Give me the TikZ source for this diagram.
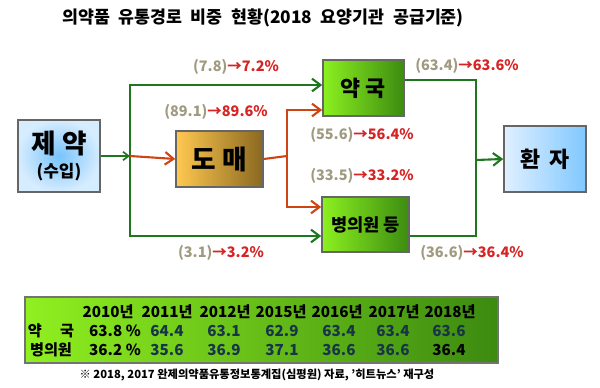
\documentclass[tikz,border=0pt]{standalone}
\usepackage{fontspec}
\setmainfont{Noto Sans CJK KR}
\usetikzlibrary{arrows.meta,positioning}
\definecolor{grnline}{RGB}{30,118,30}
\definecolor{redline}{RGB}{208,68,20}
\definecolor{oldval}{RGB}{160,154,128}
\definecolor{newval}{RGB}{214,36,36}
\definecolor{tabtxt}{RGB}{24,52,72}
\newcommand{\flowpct}[2]{\textcolor{oldval}{(#1)}\textcolor{newval}{→\textbf{#2\%}}}
\begin{document}
\begin{tikzpicture}[x=0.025cm,y=-0.025cm,
    box/.style={draw=black!60,line width=1.1pt,inner sep=0pt,font=\bfseries},
    grnbox/.style={box,left color={rgb,255:red,140;green,240;blue,32},right color={rgb,255:red,60;green,140;blue,16}},
    gflow/.style={draw=grnline,line width=1.5pt,-{Straight Barb[length=6pt,width=9pt,line width=1.5pt]}},
    rflow/.style={draw=redline,line width=1.5pt,-{Straight Barb[length=6pt,width=9pt,line width=1.5pt]}},
    pct/.style={font=\fontsize{10.3}{12}\selectfont\bfseries},
    tab/.style={font=\fontsize{10.8}{12}\selectfont\bfseries,text=tabtxt}]
    %\draw[help lines] (0,0) grid[step=50] (600,388);
    \useasboundingbox (0,0) rectangle (600,388);
    \node (title) at (263,18) {\fontsize{12.3}{14}\selectfont\bfseries\spaceskip=0.5em 의약품 유통경로 비중 현황(2018 요양기관 공급기준)};
    % boxes
    \node[box,minimum width=2.05cm,minimum height=1.8cm,shading=radial,inner color={rgb,255:red,120;green,196;blue,250},outer color={rgb,255:red,214;green,236;blue,255},align=center] (jeyak) at (59,156)
        {{\fontsize{19}{21}\selectfont 제 약}\\[5pt]{\fontsize{12}{14}\selectfont (수입)}};
    \node[box,minimum width=2.175cm,minimum height=1.4cm,left color={rgb,255:red,255;green,200;blue,80},right color={rgb,255:red,138;green,104;blue,32},font=\fontsize{19}{21}\selectfont\bfseries] (domae) at (219.5,159) {도 매};
    \node[grnbox,minimum width=2.025cm,minimum height=1.4cm,font=\fontsize{15.5}{17}\selectfont\bfseries] (yakguk) at (363.5,88) {약 국};
    \node[grnbox,minimum width=2.175cm,minimum height=1.375cm,font=\fontsize{12.5}{14}\selectfont\bfseries] (byung) at (365.5,224.5) {병의원 등};
    \node[box,minimum width=2.05cm,minimum height=1.65cm,left color={rgb,255:red,224;green,240;blue,255},right color={rgb,255:red,128;green,200;blue,255},font=\fontsize{15.5}{17}\selectfont\bfseries] (hwanja) at (545,159) {환\hspace{0.4em}자};
    % branch points
    \coordinate (split) at (130,156);
    \coordinate (top) at (130,85);
    \coordinate (bot) at (130,236);
    \coordinate (rsplit) at (287,156);
    \coordinate (rtop) at (287,110);
    \coordinate (rbot) at (287,207);
    \coordinate (join) at (476,160);
    \coordinate (jtop) at (476,80);
    \coordinate (jbot) at (476,236);
    % connectors
    \draw[gflow,-{Straight Barb[length=4pt,width=6pt,line width=1.2pt]}] (jeyak.east) -- (split);
    \draw[gflow] (split) -- (top) -- (top -| yakguk.west);
    \draw[gflow] (split) -- (bot) -- (bot -| byung.west);
    \draw[rflow] (split) -- (domae.west);
    \draw[draw=redline,line width=1.5pt] (domae.east) -- (rsplit);
    \draw[rflow] (rsplit) -- (rtop) -- (rtop -| yakguk.west);
    \draw[rflow] (rsplit) -- (rbot) -- (rbot -| byung.west);
    \draw[draw=grnline,line width=1.5pt] (yakguk.east |- jtop) -- (jtop) -- (jbot) -- (byung.east |- jbot);
    \draw[gflow] (join) -- (hwanja.west);
    % shares
    \node[pct] (p1) at (236,67) {\flowpct{7.8}{7.2}};
    \node[pct] (p2) at (216,112) {\flowpct{89.1}{89.6}};
    \node[pct] (p3) at (362,135) {\flowpct{55.6}{56.4}};
    \node[pct] (p4) at (362,176) {\flowpct{33.5}{33.2}};
    \node[pct] (p5) at (221,253) {\flowpct{3.1}{3.2}};
    \node[pct] (p6) at (467,66) {\flowpct{63.4}{63.6}};
    \node[pct] (p7) at (472,253) {\flowpct{36.6}{36.4}};
    % table
    \node[draw=black!55,line width=1pt,minimum width=11.825cm,minimum height=1.65cm,left color={rgb,255:red,144;green,240;blue,32},right color={rgb,255:red,60;green,138;blue,16}] (table) at (261.5,330) {};
    \node[tab,text=black] (ryak) at (51,331) {약\hspace{1.2em}국};
    \node[tab,text=black] (rbyung) at (51,350) {병의원};
    \node[tab,text=black] (y1) at (108,312) {2010년};
    \node[tab,text=black] (a1) at (115,331) {63.8 \%};
    \node[tab,text=black] (b1) at (115,350) {36.2 \%};
    \node[tab,text=black] (y2) at (167,312) {2011년};
    \node[tab] (a2) at (167,331) {64.4};
    \node[tab] (b2) at (167,350) {35.6};
    \node[tab,text=black] (y3) at (225,312) {2012년};
    \node[tab] (a3) at (224,331) {63.1};
    \node[tab] (b3) at (224,350) {36.9};
    \node[tab,text=black] (y4) at (281,312) {2015년};
    \node[tab] (a4) at (282,331) {62.9};
    \node[tab] (b4) at (282,350) {37.1};
    \node[tab,text=black] (y5) at (337,312) {2016년};
    \node[tab] (a5) at (339,331) {63.4};
    \node[tab] (b5) at (339,350) {36.6};
    \node[tab,text=black] (y6) at (394,312) {2017년};
    \node[tab] (a6) at (393,331) {63.4};
    \node[tab] (b6) at (393,350) {36.6};
    \node[tab,text=black] (y7) at (450,312) {2018년};
    \node[tab] (a7) at (449,331) {63.6};
    \node[tab,text=black] (b7) at (449,350) {36.4};
    \node[font=\fontsize{8}{10}\selectfont\bfseries] (note) at (257,375) {※ 2018, 2017 완제의약품유통정보통계집(심평원) 자료, '히트뉴스' 재구성};
\end{tikzpicture}
\end{document}
